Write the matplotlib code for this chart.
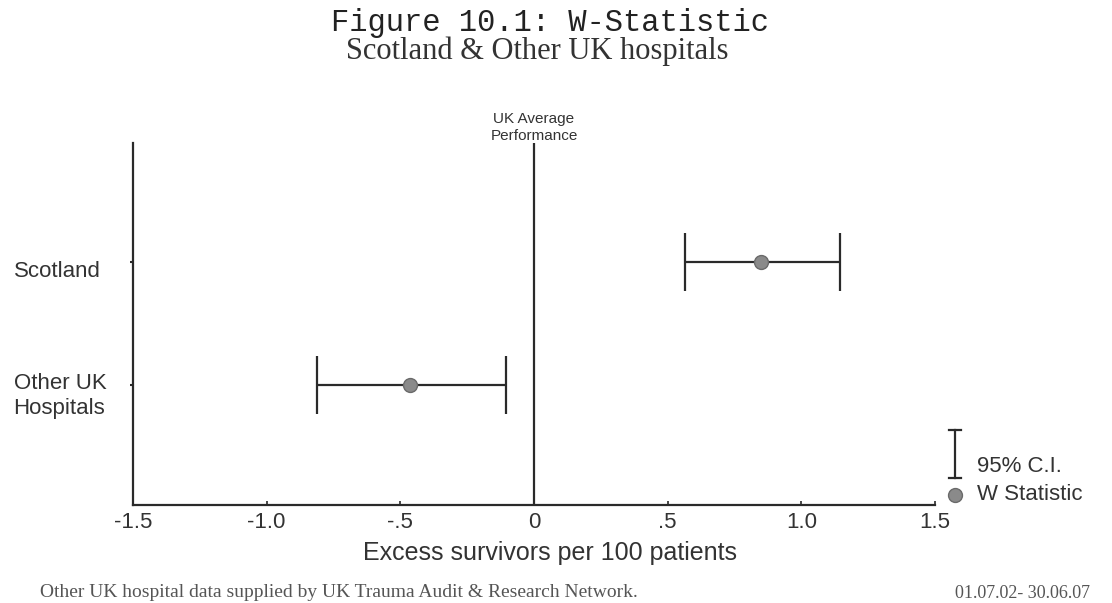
import matplotlib.pyplot as plt
import matplotlib.transforms as mtransforms

# W statistic (excess survivors per 100 patients) with 95% confidence limits
groups = ['Scotland', 'Other UK\nHospitals']
w_stat = [0.85, -0.465]
ci_low = [0.565, -0.81]
ci_high = [1.145, -0.105]
y_pos = [1, 0]

xticks = [-1.5, -1.0, -0.5, 0, 0.5, 1.0, 1.5]
xtick_labels = ['-1.5', '-1.0', '-.5', '0', '.5', '1.0', '1.5']

ink = '#2a2a2a'
sans = ['Liberation Sans', 'DejaVu Sans']
serif = ['Liberation Serif', 'DejaVu Serif']

fig = plt.figure(figsize=(11.12, 6.03), dpi=100)
ax = fig.add_axes([0.1196, 0.1625, 0.7212, 0.6004])

# error bars drawn from the interval ends
err_lo = [w - lo for w, lo in zip(w_stat, ci_low)]
err_hi = [hi - w for w, hi in zip(w_stat, ci_high)]
ax.errorbar(w_stat, y_pos, xerr=[err_lo, err_hi], fmt='o', color=ink,
            ecolor=ink, elinewidth=1.6, capsize=21, capthick=1.6,
            markersize=10, markerfacecolor='#8a8a8a', markeredgecolor='#6a6a6a',
            zorder=3)

# reference line at zero
ax.axvline(0, color=ink, linewidth=1.6, zorder=2)
ax.text(0, 1.0, 'UK Average\nPerformance', transform=ax.get_xaxis_transform(),
        ha='center', va='bottom', fontsize=11, color='#333333', family=sans,
        linespacing=1.25)

ax.set_xlim(-1.5, 1.5)
ax.set_ylim(-0.976, 1.967)
ax.set_xticks(xticks)
ax.set_xticklabels(xtick_labels, family=sans, fontsize=16, color='#333333')
ax.set_yticks(y_pos)
ax.set_yticklabels(groups, family=sans, fontsize=16, color='#333333',
                   ha='left', multialignment='left')
ax.tick_params(axis='y', length=2, width=1.5, color=ink, pad=84)
ax.tick_params(axis='x', length=3, width=1.2, color=ink, direction='in', pad=5)

# group labels sit a little below their tick
shift = mtransforms.ScaledTranslation(0, -5 / 72, fig.dpi_scale_trans)
for lbl in ax.get_yticklabels():
    lbl.set_transform(lbl.get_transform() + shift)

for side in ['top', 'right']:
    ax.spines[side].set_visible(False)
for side in ['left', 'bottom']:
    ax.spines[side].set_linewidth(1.6)
    ax.spines[side].set_color(ink)

ax.set_xlabel('Excess survivors per 100 patients', family=sans, fontsize=18,
              color='#333333')
ax.xaxis.set_label_coords(0.52, -0.1)

# key at lower right
ax.plot([1.025, 1.025], [0.075, 0.207], transform=ax.transAxes, color=ink,
        linewidth=1.6, clip_on=False)
for yy in [0.075, 0.207]:
    ax.plot([1.017, 1.033], [yy, yy], transform=ax.transAxes, color=ink,
            linewidth=1.6, clip_on=False)
ax.plot([1.025], [0.028], 'o', transform=ax.transAxes, markersize=10,
        markerfacecolor='#8a8a8a', markeredgecolor='#6a6a6a', clip_on=False)
ax.text(1.053, 0.105, '95% C.I.', transform=ax.transAxes, family=sans,
        fontsize=16, color='#333333', va='center', ha='left')
ax.text(1.053, 0.028, 'W Statistic', transform=ax.transAxes, family=sans,
        fontsize=16, color='#333333', va='center', ha='left')

# titles
fig.text(0.495, 0.962, 'Figure 10.1: W-Statistic', ha='center', va='center',
         family=['Liberation Mono', 'DejaVu Sans Mono'], fontsize=22,
         color='#222222')
fig.text(0.483, 0.915, 'Scotland & Other UK hospitals', ha='center',
         va='center', family=serif, fontsize=22, color='#333333')

# footer
fig.text(0.036, 0.018, 'Other UK hospital data supplied by UK Trauma Audit & Research Network.',
         ha='left', va='center', family=serif, fontsize=14, color='#555555')
fig.text(0.859, 0.002, '01.07.02- 30.06.07', ha='left', va='bottom',
         family=serif, fontsize=13, color='#555555')

fig.savefig('out.png', dpi=100)
